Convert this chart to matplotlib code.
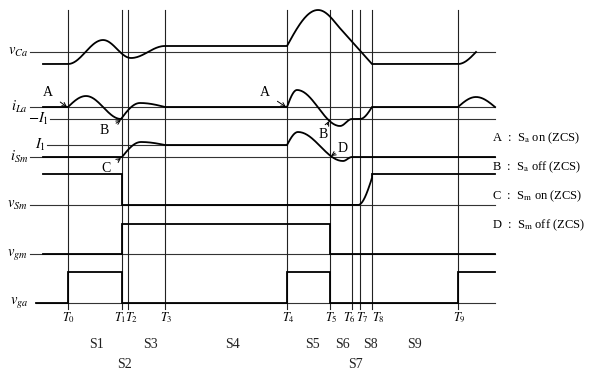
import numpy as np
import matplotlib.pyplot as plt

plt.rcParams['font.family'] = ['Liberation Serif', 'DejaVu Serif']
plt.rcParams['mathtext.fontset'] = 'stix'

# time instants T0..T9 (horizontal position on the drawing)
t_names = ['T_0', 'T_1', 'T_2', 'T_3', 'T_4', 'T_5', 'T_6', 'T_7', 'T_8', 'T_9']
t_pos = [68, 122, 128, 165, 287, 330, 352, 360, 372, 458]
t_label_shift = [0, -3, 3, 0, 0, 0, -4, 1, 5, 0]

# reference level of each trace (drawing units, top = 0)
sig_names = [r'$v_{Ca}$', r'$i_{La}$', r'$-I_1$', r'$I_1$', r'$i_{Sm}$', r'$v_{Sm}$', r'$v_{gm}$', r'$v_{ga}$']
sig_level = [52, 107, 119, 145, 157, 205, 254, 303]
sig_start = [30, 30, 50, 47, 30, 30, 30, 36]
sig_end = [495, 495, 495, 287, 495, 495, 495, 495]
sig_label_x = [28, 28, 49, 46, 28, 28, 28, 28]

# waveform key points: (x, y, how the segment into the point is drawn)
v_ca = [(43, 64, 'line'), (68, 64, 'line'), (103, 40, 'ease'), (131, 58, 'ease'),
        (165, 46, 'ease'), (287, 46, 'line'), (318, 10, 'out'), (338, 26, 'in'),
        (372, 64, 'line'), (458, 64, 'line'), (476, 52, 'in')]
i_la = [(43, 107, 'line'), (68, 107, 'line'), (86, 96, 'out'), (121, 119, 'ease'),
        (140, 103, 'out'), (165, 107, 'in'), (287, 107, 'line'), (297, 90, 'out'),
        (340, 126, 'ease'), (352, 119, 'ease'), (360, 119, 'line'), (372, 107, 'in'),
        (458, 107, 'line'), (476, 97, 'out'), (495, 107, 'in')]
i_sm = [(43, 157, 'line'), (122, 157, 'line'), (141, 142, 'out'), (165, 145, 'in'),
        (287, 145, 'line'), (298, 132, 'out'), (343, 161, 'ease'), (352, 157, 'ease'),
        (495, 157, 'line')]
v_sm = [(43, 174, 'line'), (122, 174, 'line'), (122, 205, 'line'), (358, 205, 'line'),
        (372, 178, 'in'), (372, 174, 'line'), (495, 174, 'line')]
v_gm = [(43, 254, 'line'), (122, 254, 'line'), (122, 224, 'line'), (330, 224, 'line'),
        (330, 254, 'line'), (495, 254, 'line')]
v_ga = [(36, 303, 'line'), (68, 303, 'line'), (68, 272, 'line'), (122, 272, 'line'),
        (122, 303, 'line'), (287, 303, 'line'), (287, 272, 'line'), (330, 272, 'line'),
        (330, 303, 'line'), (458, 303, 'line'), (458, 272, 'line'), (495, 272, 'line')]

# interval labels
s_names = ['S1', 'S2', 'S3', 'S4', 'S5', 'S6', 'S7', 'S8', 'S9']
s_x = [97, 125, 150, 232, 312, 342, 355, 370, 415]
s_row = [0, 1, 0, 0, 0, 0, 1, 0, 0]

legend_lines = [r'A  :  S$_\mathrm{a}$ on (ZCS)', r'B  :  S$_\mathrm{a}$ off (ZCS)',
                r'C  :  S$_\mathrm{m}$ on (ZCS)', r'D  :  S$_\mathrm{m}$ off (ZCS)']

# annotation: letter, text position, arrow tip
notes = [('A', (48, 93), (67, 107)), ('B', (104, 131), (121, 120)),
         ('C', (106, 169), (121, 158)), ('A', (265, 93), (286, 107)),
         ('B', (323, 134), (329, 121)), ('D', (343, 148), (331, 156))]


def shape(kind, t):
    if kind == 'ease':
        return (1 - np.cos(np.pi * t)) / 2
    if kind == 'out':
        return np.sin(np.pi * t / 2)
    if kind == 'in':
        return 1 - np.cos(np.pi * t / 2)
    return t


def trace(pts):
    xs, ys = [pts[0][0]], [pts[0][1]]
    for (x0, y0, _), (x1, y1, kind) in zip(pts[:-1], pts[1:]):
        t = np.linspace(0, 1, 40)[1:]
        xs.extend(x0 + (x1 - x0) * t)
        ys.extend(y0 + (y1 - y0) * shape(kind, t))
    return xs, ys


fig = plt.figure(figsize=(5.9, 3.72), dpi=100)
ax = fig.add_axes([0, 0, 1, 1])
ax.set_xlim(0, 590)
ax.set_ylim(372, 0)
ax.axis('off')

# reference lines and labels
for name, lvl, x0, x1, lx in zip(sig_names, sig_level, sig_start, sig_end, sig_label_x):
    ax.plot([x0, x1], [lvl, lvl], color='#333333', lw=0.8)
    ax.text(lx, lvl, name, fontsize=10.5, ha='right', va='center')

# vertical time markers
for name, x, dx in zip(t_names, t_pos, t_label_shift):
    ax.plot([x, x], [10, 309], color='#222222', lw=0.8)
    ax.text(x + 1 + dx, 318, '$' + name + '$', fontsize=9, ha='center', va='center')

for pts in [v_ca, i_la, i_sm, v_sm, v_gm, v_ga]:
    xs, ys = trace(pts)
    ax.plot(xs, ys, color='black', lw=1.3, solid_joinstyle='miter')

for letter, txt, tip in notes:
    ax.annotate(letter, xy=tip, xytext=txt, fontsize=10, ha='center', va='center',
                arrowprops=dict(arrowstyle='->', lw=0.7, color='black',
                                shrinkA=4, shrinkB=0, mutation_scale=7))

for name, x, row in zip(s_names, s_x, s_row):
    ax.text(x, 345 + row * 19, name, fontsize=10, ha='center', va='center', color='#222222')

for i, line in enumerate(legend_lines):
    ax.text(492, 138 + i * 29, line, fontsize=9, ha='left', va='center')

fig.savefig('out.png', dpi=100)
